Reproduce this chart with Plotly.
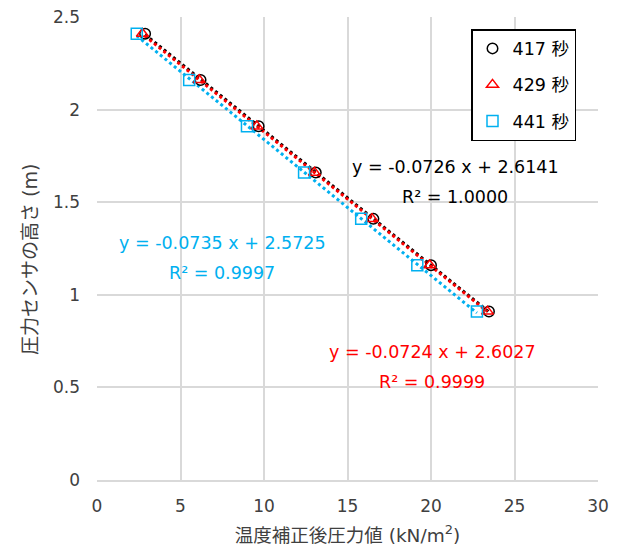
import numpy as np
import plotly.graph_objects as go

heights = [2.41, 2.16, 1.91, 1.66, 1.41, 1.16, 0.91]
x_417 = [2.88, 6.2, 9.68, 13.1, 16.55, 20.0, 23.47]
x_429 = [2.72, 6.12, 9.57, 13.02, 16.47, 19.92, 23.38]
x_441 = [2.38, 5.52, 8.98, 12.4, 15.82, 19.18, 22.75]

series = [
    ("417 秒", x_417, "black", "circle-open", 10.5, "3px,3px"),
    ("429 秒", x_429, "#FF0000", "triangle-up-open", 10.5, "0px,3px,3px,0px"),
    ("441 秒", x_441, "#00B0F0", "square-open", 11, "3px,3px"),
]

eq_lines = [
    ("y = -0.0726 x + 2.6141", "black", 455, 167),
    ("R² = 1.0000", "black", 455, 197),
    ("y = -0.0724 x + 2.6027", "#FF0000", 432, 352),
    ("R² = 0.9999", "#FF0000", 432, 382),
    ("y = -0.0735 x + 2.5725", "#00B0F0", 222, 243),
    ("R² = 0.9997", "#00B0F0", 222, 273),
]

x_title = "温度補正後圧力値 (kN/m<sup>2</sup>)"
y_title = "圧力センサの高さ (m)"

FONT = "Verdana, DejaVu Sans, Noto Sans CJK JP, sans-serif"

fig = go.Figure()
for name, xs, col, sym, sz, dash in series:
    a, b = np.polyfit(xs, heights, 1)
    xl = np.array([min(xs), max(xs)])
    fig.add_trace(go.Scatter(x=xl, y=a * xl + b, mode="lines",
                             line=dict(color=col, width=3, dash=dash),
                             showlegend=False, hoverinfo="skip"))
for i, (name, xs, col, sym, sz, dash) in enumerate(series):
    fig.add_trace(go.Scatter(x=xs, y=heights, mode="markers", name=name,
                             legendgroup=f"g{i}",
                             marker=dict(symbol=sym, size=sz, color=col,
                                         line=dict(color=col, width=1.5))))

W, H = 621, 551
L, R, T, B = 97, 23, 17, 71
pw, ph = W - L - R, H - T - B
for txt, col, px, py in eq_lines:
    fig.add_annotation(x=(px - L) / pw, y=(H - B - py) / ph, xref="paper", yref="paper",
                       xanchor="center", yanchor="middle",
                       text=txt, showarrow=False, align="center",
                       font=dict(color=col, size=17.5, family=FONT))

# y-axis title as rotated annotation (placed like the reference)
fig.add_annotation(x=(30 - L) / pw, y=(H - B - 260) / ph, xref="paper", yref="paper",
                   xanchor="center", yanchor="middle", textangle=-90,
                   text=y_title, showarrow=False,
                   font=dict(color="#404040", size=19, family=FONT))

fig.update_layout(
    width=W, height=H,
    margin=dict(l=L, r=R, t=T, b=B, autoexpand=False),
    paper_bgcolor="white", plot_bgcolor="white",
    font=dict(family=FONT, size=17, color="#404040"),
    showlegend=True,
    legend=dict(x=(471 - L) / pw, y=(H - B - 29) / ph, xanchor="left", yanchor="top",
                bordercolor="black", borderwidth=1.5, bgcolor="white",
                font=dict(size=17.5, color="black", family=FONT),
                tracegroupgap=10.5, itemwidth=30),
    xaxis=dict(range=[0, 30], dtick=5, showgrid=True, gridcolor="#D9D9D9", gridwidth=1.5,
               zeroline=False, showline=True, linecolor="#D9D9D9", linewidth=1.5,
               automargin=False,
               ticks="", ticklabelstandoff=10, tickfont=dict(size=17, color="#404040"),
               title=dict(text=x_title, font=dict(size=18.5, color="#404040"),
                          standoff=14)),
    yaxis=dict(range=[0, 2.5], dtick=0.5, showgrid=True, gridcolor="#D9D9D9", gridwidth=1.5,
               zeroline=False, showline=False, ticks="", ticklabelstandoff=16,
               automargin=False,
               tickfont=dict(size=17, color="#404040")),
)

fig.write_html("out.html", config={"displayModeBar": False},
               post_script="document.body.style.margin='0';")
